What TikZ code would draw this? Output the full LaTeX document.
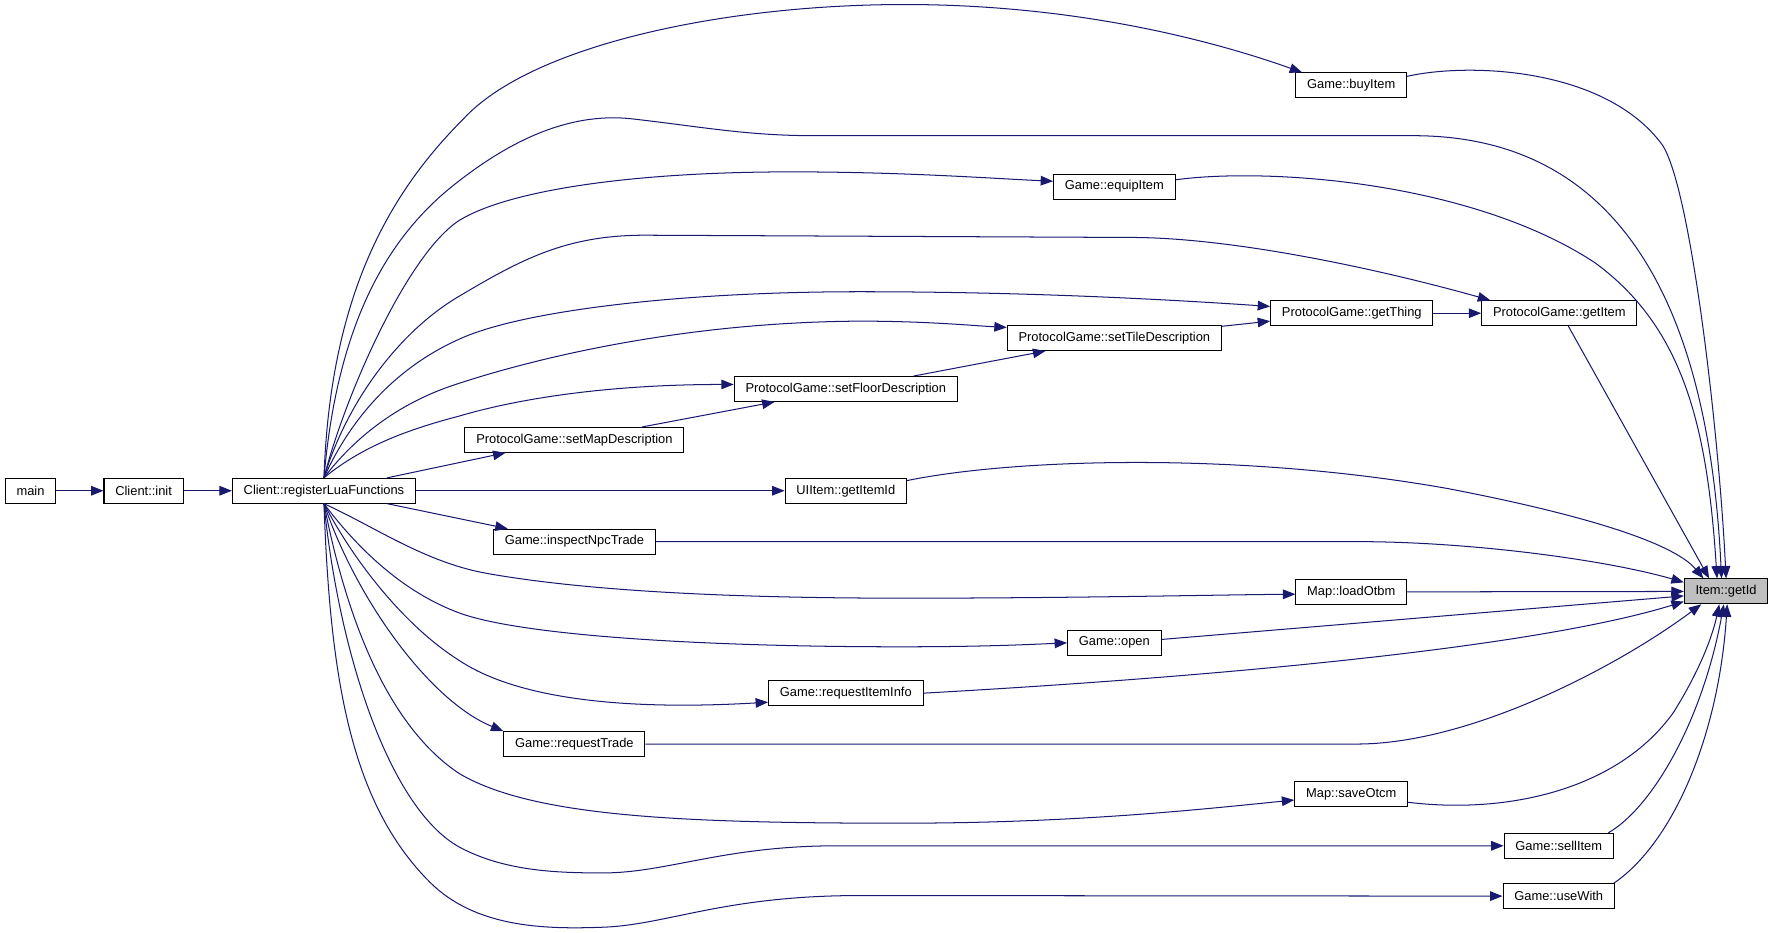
\documentclass[tikz,border=0pt]{standalone}
\usepackage{fontspec}
\setmainfont{Liberation Sans}
\usepackage{tikz}
\usetikzlibrary{arrows.meta}
\definecolor{edgeblue}{HTML}{191970}

\begin{document}
\begin{tikzpicture}[x=1pt, y=-1pt,
    fn/.style={draw, line width=0.9pt, rectangle, fill=white, minimum height=22pt,
        inner xsep=10pt, inner ysep=0pt, font=\fontsize{11.4}{13}\selectfont},
    fncur/.style={fn, fill=black!25},
    call/.style={line width=0.9pt, color=edgeblue, -{Triangle[length=11pt, width=8.5pt]}}]
\useasboundingbox (0,0) rectangle (1568,825);

\node[fn] (main) at (27, 434) {main};
\node[fn] (init) at (127, 434) {Client::init};
\node[fn] (reg) at (286.5, 434) {Client::registerLuaFunctions};
\node[fn] (buy) at (1195, 75.5) {Game::buyItem};
\node[fn] (equip) at (985.5, 165) {Game::equipItem};
\node[fn] (getitem) at (1379, 277) {ProtocolGame::getItem};
\node[fn] (getthing) at (1195.5, 277) {ProtocolGame::getThing};
\node[fn] (settile) at (985.5, 299) {ProtocolGame::setTileDescription};
\node[fn] (setfloor) at (748, 344) {ProtocolGame::setFloorDescription};
\node[fn] (setmap) at (508, 389) {ProtocolGame::setMapDescription};
\node[fn] (uiitem) at (748, 434) {UIItem::getItemId};
\node[fn] (inspect) at (508, 479) {Game::inspectNpcTrade};
\node[fn] (loadotbm) at (1195, 523.5) {Map::loadOtbm};
\node[fncur] (getid) at (1526.5, 523) {Item::getId};
\node[fn] (open) at (985.5, 568.5) {Game::open};
\node[fn] (reqinfo) at (748, 613) {Game::requestItemInfo};
\node[fn] (reqtrade) at (508, 658) {Game::requestTrade};
\node[fn] (saveotcm) at (1195, 702.5) {Map::saveOtcm};
\node[fn] (sell) at (1378.5, 748) {Game::sellItem};
\node[fn] (usewith) at (1378.5, 792.5) {Game::useWith};

\draw[call] (main) -- (init);
\draw[call] (init) -- (reg);
\draw[call] (reg) -- (uiitem);
\draw[call] (reg.north) .. controls (292,260) and (345,170) .. (410,105) .. controls (470,40) and (640,4) .. (800,4) .. controls (950,4) and (1070,35) .. ([xshift=6pt]buy.north west);
\draw[call] (reg.north) .. controls (298,290) and (340,210) .. (406,160) .. controls (460,118) and (510,100) .. (558,105) .. controls (620,112) and (660,120) .. (720,120) -- (1250,120) .. controls (1420,120) and (1510,250) .. ([xshift=-4pt]getid.north);
\draw[call] (reg.north) .. controls (305,350) and (360,225) .. (406,195) .. controls (450,168) and (560,152) .. (700,152) .. controls (800,152) and (880,158) .. (equip.175);
\draw[call] (reg.north) .. controls (305,360) and (350,295) .. (406,262) .. controls (460,230) and (500,208) .. (570,208) -- (1000,210) .. controls (1090,210) and (1220,238) .. ([xshift=8pt]getitem.north west);
\draw[call] (reg.north) .. controls (310,370) and (350,325) .. (406,300) .. controls (460,275) and (600,258) .. (760,258) .. controls (900,258) and (1020,264) .. ([yshift=6pt]getthing.west);
\draw[call] (reg.north) .. controls (315,385) and (355,355) .. (406,339) .. controls (470,318) and (600,285) .. (760,284) .. controls (820,284) and (860,288) .. ([yshift=-2pt]settile.north west);
\draw[call] (reg.north) .. controls (320,395) and (360,380) .. (406,368) .. controls (460,352) and (540,340) .. ([yshift=4pt]setfloor.west);
\draw[call] ([xshift=56pt]reg.north) -- ([xshift=-61pt]setmap.south);
\draw[call] ([xshift=56pt]reg.south) -- ([xshift=-59pt]inspect.north);
\draw[call] ([xshift=60pt]setmap.north) -- ([xshift=-63pt]setfloor.south);
\draw[call] ([xshift=60pt]setfloor.north) -- ([xshift=-61pt]settile.south);
\draw[call] ([yshift=-1pt]settile.north east) -- ([yshift=-7pt]getthing.west);
\draw[call] (getthing) -- (getitem);
\draw[call] (reg.south) .. controls (330,465) and (375,497) .. (430,507) .. controls (520,523) and (650,529) .. (800,529) .. controls (950,529) and (1080,526) .. ([yshift=-2pt]loadotbm.west);
\draw[call] (reg.south) .. controls (320,490) and (360,525) .. (406,542) .. controls (460,562) and (620,572) .. (796,572) .. controls (870,572) and (910,570) .. (open.west);
\draw[call] (reg.south) .. controls (315,500) and (360,555) .. (406,584) .. controls (460,620) and (560,628) .. ([yshift=-8pt]reqinfo.west);
\draw[call] (reg.south) .. controls (315,530) and (380,620) .. (reqtrade.north west);
\draw[call] (reg.south) .. controls (305,540) and (340,640) .. (406,684) .. controls (470,722) and (600,728) .. (796,728) .. controls (950,728) and (1060,716) .. ([yshift=-5pt]saveotcm.west);
\draw[call] (reg.south) .. controls (300,580) and (345,715) .. (406,749) .. controls (445,770) and (490,772) .. (533,772) .. controls (590,772) and (640,748) .. (740,748) -- (sell.west);
\draw[call] (reg.south) .. controls (292,600) and (310,710) .. (380,780) .. controls (420,820) and (480,822) .. (533,820) .. controls (590,818) and (640,792) .. (760,792) -- (usewith.west);
\draw[call] ([yshift=8pt]buy.east) .. controls (1300,55) and (1420,60) .. (1470,128) .. controls (1495,165) and (1520,380) .. (getid.north);
\draw[call] ([yshift=6pt]equip.east) .. controls (1120,148) and (1300,160) .. (1410,232) .. controls (1490,290) and (1510,380) .. ([xshift=-8pt]getid.north);
\draw[call] ([xshift=8pt]getitem.south) -- ([xshift=-15pt]getid.north);
\draw[call] ([yshift=9pt]uiitem.east) .. controls (900,405) and (1100,400) .. (1280,432) .. controls (1400,455) and (1480,480) .. ([xshift=-20pt]getid.north);
\draw[call] (inspect.east) -- (1200,479) .. controls (1300,479) and (1420,495) .. ([yshift=8pt]getid.west);
\draw[call] (loadotbm) -- (getid);
\draw[call] ([yshift=3pt]open.east) -- ([yshift=-4pt]getid.west);
\draw[call] (reqinfo.east) .. controls (1050,600) and (1350,575) .. ([yshift=-9pt]getid.west);
\draw[call] (reqtrade.east) -- (1200,658) .. controls (1300,658) and (1430,590) .. ([xshift=-22pt]getid.south);
\draw[call] ([yshift=-7pt]saveotcm.east) .. controls (1330,720) and (1430,700) .. (1480,630) .. controls (1505,590) and (1515,560) .. ([xshift=-6pt]getid.south);
\draw[call] ([xshift=-5pt]sell.north east) .. controls (1460,715) and (1505,640) .. ([xshift=-2pt]getid.south);
\draw[call] ([xshift=-1pt]usewith.north east) .. controls (1480,745) and (1520,650) .. ([xshift=1pt]getid.south);
\end{tikzpicture}
\end{document}
